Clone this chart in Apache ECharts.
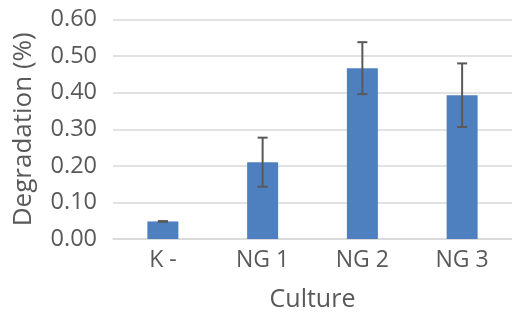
<!DOCTYPE html>
<html><head><meta charset="utf-8">
<script src="https://cdn.jsdelivr.net/npm/echarts@6/dist/echarts.min.js"></script>
<style>html,body{margin:0;padding:0;background:#fff}#c{width:512px;height:323px}</style>
</head><body><div id="c"></div>
<script>
var categories = ['K -', 'NG 1', 'NG 2', 'NG 3'];
var values = [0.048, 0.210, 0.467, 0.393];
var errors = [0.001, 0.067, 0.071, 0.087];
var yTicks = [0, 0.1, 0.2, 0.3, 0.4, 0.5, 0.6];

var chart = echarts.init(document.getElementById('c'));
var font = 'Open Sans';
var txt = '#595959';
chart.setOption({
  animation: false,
  grid: {left: 113, right: -3, top: 19.5, bottom: 84},
  xAxis: {
    type: 'category', data: categories,
    name: 'Culture', nameLocation: 'middle', nameGap: 48,
    nameTextStyle: {fontFamily: font, fontSize: 25, color: txt},
    axisLine: {lineStyle: {color: '#d9d9d9', width: 1.5}},
    axisTick: {show: false},
    axisLabel: {fontFamily: font, fontSize: 23, color: txt, margin: 10}
  },
  yAxis: {
    type: 'value', min: yTicks[0], max: yTicks[yTicks.length - 1], interval: 0.1,
    name: 'Degradation (%)', nameLocation: 'middle', nameGap: 76,
    nameTextStyle: {fontFamily: font, fontSize: 26, color: txt},
    axisLine: {show: false}, axisTick: {show: false},
    axisLabel: {fontFamily: font, fontSize: 23.5, color: txt, margin: 16,
      formatter: function (v) { return v.toFixed(2); }},
    splitLine: {lineStyle: {color: '#d9d9d9', width: 1.5}}
  },
  series: [{
    type: 'bar', data: values, barWidth: 31,
    itemStyle: {color: '#4e7fbf'}
  }, {
    type: 'custom',
    data: values.map(function (v, i) { return [i, v - errors[i], v + errors[i]]; }),
    renderItem: function (params, api) {
      var lo = api.coord([api.value(0), api.value(1)]);
      var hi = api.coord([api.value(0), api.value(2)]);
      var hw = 5;
      var st = {stroke: '#595959', lineWidth: 2};
      return {type: 'group', children: [
        {type: 'line', shape: {x1: hi[0], y1: hi[1], x2: lo[0], y2: lo[1]}, style: st},
        {type: 'line', shape: {x1: hi[0] - hw, y1: hi[1], x2: hi[0] + hw, y2: hi[1]}, style: st},
        {type: 'line', shape: {x1: lo[0] - hw, y1: lo[1], x2: lo[0] + hw, y2: lo[1]}, style: st}
      ]};
    },
    z: 5
  }]
});
</script></body></html>
